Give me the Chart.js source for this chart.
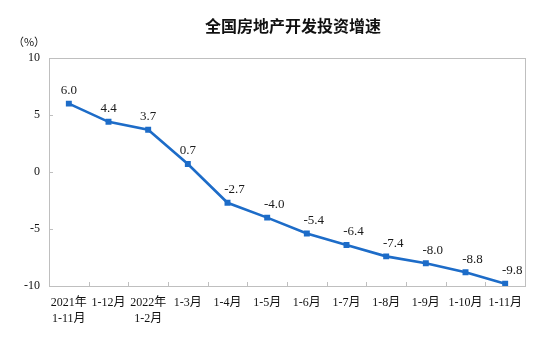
<!DOCTYPE html>
<html>
<head>
<meta charset="utf-8">
<script src="https://cdn.jsdelivr.net/npm/chart.js@4.4.1/dist/chart.umd.min.js"></script>
<style>
  html, body { margin: 0; padding: 0; background: #ffffff; }
  #wrap { width: 556px; height: 348px; position: relative; }
</style>
</head>
<body>
<div id="wrap"><canvas id="c"></canvas></div>
<script>
// 全国房地产开发投资累计增速（%）
const chartTitle = '全国房地产开发投资增速';
const unitLabel = '（%）';
const categories = [
  ['2021年', '1-11月'], '1-12月', ['2022年', '1-2月'], '1-3月', '1-4月', '1-5月',
  '1-6月', '1-7月', '1-8月', '1-9月', '1-10月', '1-11月'
];
const growthRates = [6.0, 4.4, 3.7, 0.7, -2.7, -4.0, -5.4, -6.4, -7.4, -8.0, -8.8, -9.8];
const yTicks = [-10, -5, 0, 5, 10];

const serif = "'Liberation Serif', 'Noto Sans CJK SC', serif";
const lineBlue = '#1d6cc8';
const boxGray = '#bfbfbf';

// Frame, inner tick marks, title, unit and point value labels
const decorations = {
  id: 'decorations',
  beforeDatasetsDraw(chart) {
    const { ctx, chartArea: a, scales } = chart;
    ctx.save();
    ctx.strokeStyle = boxGray;
    ctx.lineWidth = 1;
    ctx.strokeRect(Math.round(a.left) + 0.5, Math.round(a.top) + 0.5,
                   Math.round(a.right - a.left), Math.round(a.bottom - a.top));
    ctx.beginPath();
    yTicks.forEach(v => {
      const y = Math.round(scales.y.getPixelForValue(v)) + 0.5;
      ctx.moveTo(a.left, y);
      ctx.lineTo(a.left + 4, y);
    });
    const n = categories.length;
    for (let i = 1; i < n; i++) {
      const x = Math.round((scales.x.getPixelForValue(i - 1) + scales.x.getPixelForValue(i)) / 2) + 0.5;
      ctx.moveTo(x, a.bottom);
      ctx.lineTo(x, a.bottom - 4);
    }
    ctx.stroke();
    ctx.restore();
  },
  afterDraw(chart) {
    const { ctx } = chart;
    ctx.save();
    ctx.fillStyle = '#111111';
    ctx.textAlign = 'center';
    ctx.textBaseline = 'middle';
    ctx.font = "bold 16px 'Noto Sans CJK SC', sans-serif";
    ctx.fillText(chartTitle, 293, 26);
    ctx.font = "11px 'Noto Sans CJK SC', sans-serif";
    ctx.fillText(unitLabel, 29, 42);

    ctx.font = "13px " + serif;
    ctx.fillStyle = '#1a1a1a';
    const meta = chart.getDatasetMeta(0);
    meta.data.forEach((pt, i) => {
      const v = growthRates[i];
      const dx = v < 0 ? 7 : 0;
      ctx.fillText(v.toFixed(1), pt.x + dx, pt.y - 13);
    });
    ctx.restore();
  }
};

new Chart(document.getElementById('c'), {
  type: 'line',
  data: {
    labels: categories,
    datasets: [{
      data: growthRates,
      borderColor: lineBlue,
      backgroundColor: lineBlue,
      borderWidth: 2.6,
      pointStyle: 'rect',
      pointRadius: 4.2,
      pointHoverRadius: 4.2,
      pointBorderWidth: 0,
      tension: 0
    }]
  },
  options: {
    responsive: true,
    maintainAspectRatio: false,
    animation: false,
    events: [],
    layout: { padding: { top: 58, right: 31, left: 0, bottom: 0 } },
    plugins: {
      legend: { display: false },
      title: { display: false },
      tooltip: { enabled: false }
    },
    scales: {
      x: {
        offset: true,
        grid: { display: false, drawTicks: false },
        border: { display: false },
        ticks: {
          autoSkip: false,
          maxRotation: 0,
          minRotation: 0,
          padding: 9,
          color: '#111111',
          font: { family: serif, size: 12, lineHeight: 1.3 }
        },
        afterFit(scale) { scale.height = 62; }
      },
      y: {
        min: -10,
        max: 10,
        grid: { display: false, drawTicks: false },
        border: { display: false },
        ticks: {
          stepSize: 5,
          padding: 9,
          color: '#111111',
          font: { family: serif, size: 12 }
        },
        afterFit(scale) { scale.width = 49; }
      }
    }
  },
  plugins: [decorations]
});
</script>
</body>
</html>
